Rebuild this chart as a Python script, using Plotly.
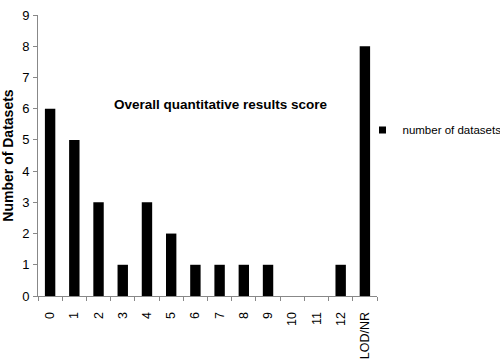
import plotly.graph_objects as go

categories = ["0", "1", "2", "3", "4", "5", "6", "7", "8", "9", "10", "11", "12", "LOD/NR"]
values = [6, 5, 3, 1, 3, 2, 1, 1, 1, 1, 0, 0, 1, 8]
y_ticks = [0, 1, 2, 3, 4, 5, 6, 7, 8, 9]
series_name = "number of datasets"

fig = go.Figure()
fig.add_trace(go.Bar(x=categories, y=values, name=series_name, showlegend=False,
                     marker=dict(color="black", line=dict(width=0))))
# legend entry with a small square symbol
fig.add_trace(go.Scatter(x=[None], y=[None], mode="markers", name=series_name,
                         marker=dict(symbol="square", size=7, color="black")))

font = "Liberation Sans, Arial, sans-serif"
fig.update_layout(
    width=500, height=359,
    margin=dict(l=38, r=123, t=15, b=63, autoexpand=False),
    plot_bgcolor="white", paper_bgcolor="white",
    bargap=0.57,
    font=dict(family=font, size=12, color="black"),
    showlegend=True,
    legend=dict(xref="container", yref="container", x=0.725, y=0.638,
                xanchor="left", yanchor="middle",
                font=dict(size=11.5), itemwidth=30, bgcolor="rgba(0,0,0,0)"),
    xaxis=dict(type="category", tickangle=-90, tickson="boundaries",
               ticks="outside", ticklen=4, tickcolor="#888", showline=True,
               linecolor="#888", linewidth=1, showgrid=False, automargin=False,
               ticklabelstandoff=10, tickfont=dict(size=12.5)),
    yaxis=dict(range=[0, 9], tickvals=y_ticks, ticks="outside", ticklen=4,
               tickcolor="#888", showline=True, linecolor="#888", linewidth=1,
               showgrid=False, zeroline=False, automargin=False,
               ticklabelstandoff=1, tickfont=dict(size=13),
               title=dict(text="<b>Number of Datasets</b>", font=dict(size=14), standoff=8)),
    annotations=[dict(text="<b>Overall quantitative results score</b>", x=0.54, y=0.716,
                      xref="paper", yref="paper", showarrow=False,
                      font=dict(size=13.5))],
)
fig.write_html("out.html", config={"displayModeBar": False},
               post_script="document.body.style.margin='0';")
